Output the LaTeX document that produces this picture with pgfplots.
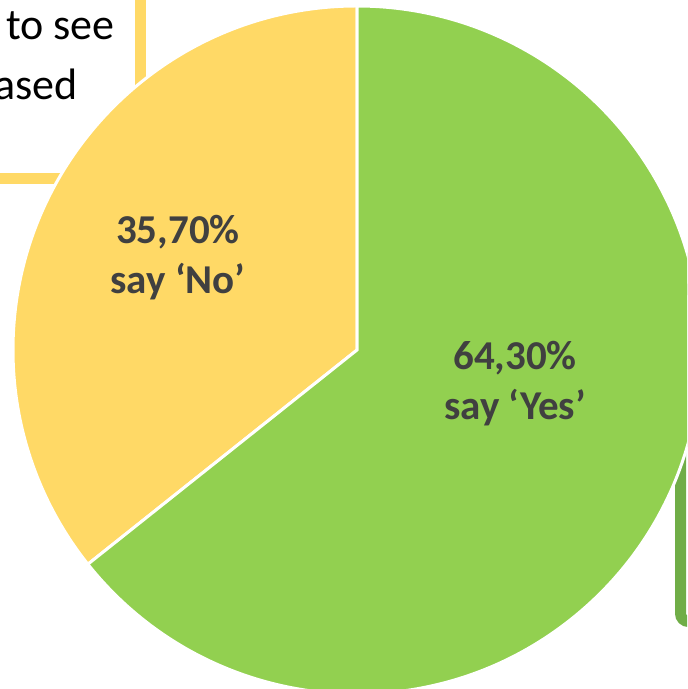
\documentclass[border=0pt]{standalone}
\usepackage{pgfplots}
\usepackage{pgfplotstable}
\pgfplotsset{compat=1.18}
\usepackage{fontspec}
\setmainfont{Carlito}
\definecolor{pieyellow}{HTML}{FFD966}
\definecolor{piegreen}{HTML}{92D050}
\definecolor{boxgreen}{HTML}{70AD47}
\definecolor{txt}{HTML}{404040}
\pgfplotstableread{
label value
No 35.7
Yes 64.3
}\piedata
\pgfplotstablegetelem{0}{value}\of\piedata \let\valNo\pgfplotsretval
\pgfplotstablegetelem{1}{value}\of\piedata \let\valYes\pgfplotsretval
\pgfmathsetmacro{\aStart}{90}
\pgfmathsetmacro{\aMid}{90+3.6*\valNo}
\pgfmathsetmacro{\aEnd}{\aMid+3.6*\valYes}
\begin{document}
\begin{tikzpicture}
\begin{axis}[
  width=343.5pt, height=344.5pt, scale only axis,
  xmin=0, xmax=687, ymin=0, ymax=689,
  hide axis, clip=true, clip mode=global,
]
\addplot[draw=none, forget plot] coordinates {(0,0) (687,689)};
% callout boxes behind the pie
\draw[pieyellow, line width=5.5pt, fill=white] (axis cs:-100,510.5) rectangle (axis cs:140.5,800);
\draw[boxgreen, line width=5.5pt, fill=white, rounded corners=4pt] (axis cs:680.5,67.5) rectangle (axis cs:900,400);
\node[anchor=base east, font=\fontsize{22}{26}\selectfont, text=black, inner sep=0pt] at (axis cs:115,649) {to see};
\node[anchor=base east, font=\fontsize{22}{26}\selectfont, text=black, inner sep=0pt] at (axis cs:78,589) {ased};
% pie slices
\fill[pieyellow, draw=white, line width=1.5pt] (axis cs:357,339) -- ++(\aStart:172pt) arc[start angle=\aStart, end angle=\aMid, radius=172pt] -- cycle;
\fill[piegreen, draw=white, line width=1.5pt] (axis cs:357,339) -- ++(\aMid:172pt) arc[start angle=\aMid, end angle=\aEnd, radius=172pt] -- cycle;
% labels
\node[align=center, text=txt, font=\fontsize{20.5}{25}\bfseries\selectfont] at (axis cs:178,431) {35,70\%\\say ‘No’};
\node[align=center, text=txt, font=\fontsize{20.5}{25}\bfseries\selectfont] at (axis cs:515,305) {64,30\%\\say ‘Yes’};
\end{axis}
\pgfresetboundingbox
\useasboundingbox (current axis.south west) rectangle (current axis.north east);
\end{tikzpicture}
\end{document}
